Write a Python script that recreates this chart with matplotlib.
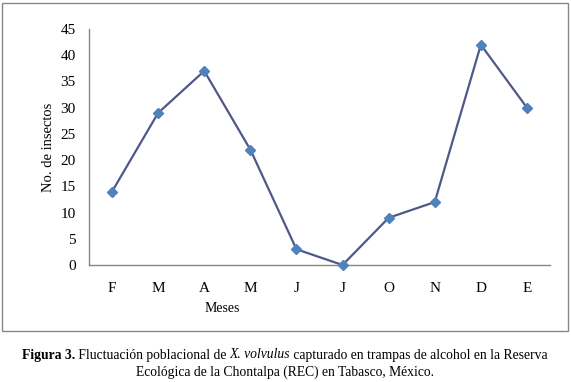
import matplotlib.pyplot as plt
from matplotlib.patches import Rectangle

meses = ["F", "M", "A", "M", "J", "J", "O", "N", "D", "E"]
insectos = [14, 29, 37, 22, 3, 0, 9, 12, 42, 30]
yticks = [0, 5, 10, 15, 20, 25, 30, 35, 40, 45]

plt.rcParams['font.family'] = ['Liberation Serif', 'DejaVu Serif']

fig = plt.figure(figsize=(5.71, 3.82), dpi=100)
ax = fig.add_axes([89 / 571, 1 - 265 / 382, 461 / 571, (265 - 29) / 382])

x = list(range(len(meses)))
ax.plot(x, insectos, color='#4f5889', lw=1.6, marker='D', markersize=5.5,
        markerfacecolor='#4f81bd', markeredgecolor='#4f81bd', zorder=3, clip_on=False)

ax.set_xlim(-0.5, len(meses) - 0.5)
ax.set_ylim(0, 45)
ax.set_yticks(yticks)
ax.set_xticks(x)
ax.set_xticklabels(meses)
ax.tick_params(length=0, labelsize=11, colors='black')
ax.tick_params(axis='y', pad=9.5)
ax.tick_params(axis='x', pad=12)
for s in ['top', 'right']:
    ax.spines[s].set_visible(False)
for s in ['left', 'bottom']:
    ax.spines[s].set_color('#868686')
    ax.spines[s].set_linewidth(1)

fig.text(48 / 571, 1 - 147 / 382, "No. de insectos", rotation=90, fontsize=10.5,
         ha='center', va='center')
fig.text(222 / 571, 1 - 308 / 382, "Meses", fontsize=10, ha='center', va='center')

# chart border
fig.patches.append(Rectangle((2 / 571, 1 - 331 / 382), 566 / 571, 328 / 382,
                             transform=fig.transFigure, fill=False,
                             edgecolor='#868686', lw=1))

# caption with mixed styles
renderer = fig.canvas.get_renderer()
fs = 9.8
parts = [("Figura 3.", 'bold', 'normal'),
         (" Fluctuación poblacional de ", 'normal', 'normal'),
         ("X. volvulus", 'normal', 'italic'),
         (" capturado en trampas de alcohol en la Reserva", 'normal', 'normal')]
texts = []
total = 0
for s, w, st in parts:
    t = fig.text(0, 1 - 355 / 382, s, fontsize=fs, fontweight=w, fontstyle=st,
                 ha='left', va='center')
    wpx = t.get_window_extent(renderer).width
    texts.append((t, wpx))
    total += wpx
x0 = 285 - total / 2
for t, wpx in texts:
    t.set_x(x0 / 571)
    x0 += wpx
fig.text(285 / 571, 1 - 372 / 382,
         "Ecológica de la Chontalpa (REC) en Tabasco, México.",
         fontsize=fs, ha='center', va='center')

fig.savefig("out.png", dpi=100)
